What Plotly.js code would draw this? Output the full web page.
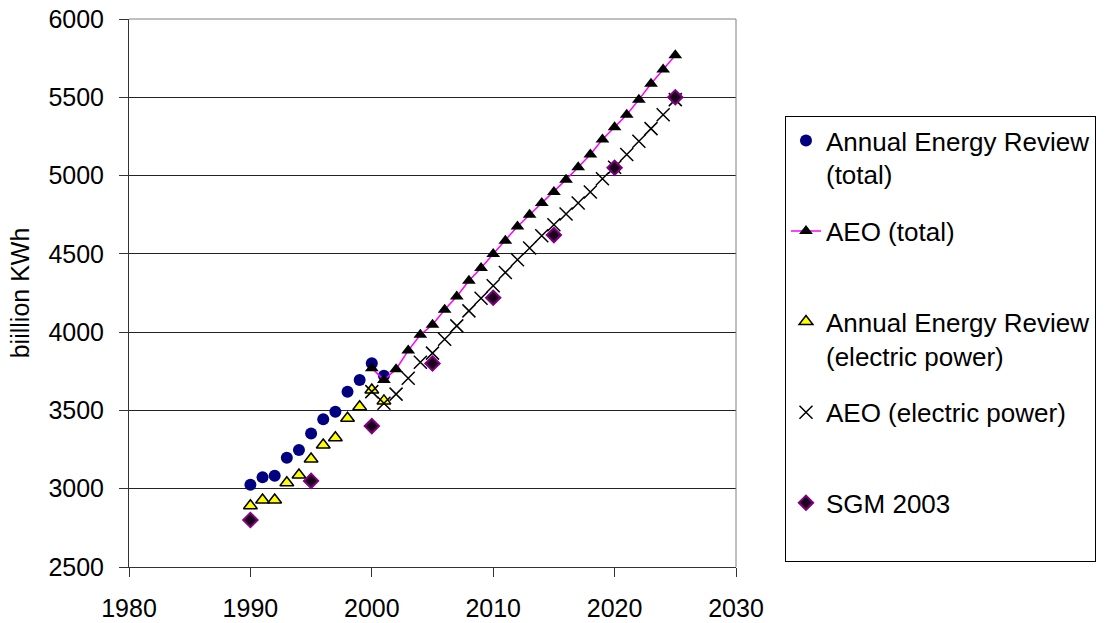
<!DOCTYPE html>
<html>
<head>
<meta charset="utf-8">
<script src="https://cdn.plot.ly/plotly-3.0.1.min.js"></script>
<style>html,body{margin:0;padding:0;background:#fff;}</style>
</head>
<body>
<div id="chart" style="width:1112px;height:623px;"></div>
<script>
const aerYears = [1990, 1991, 1992, 1993, 1994, 1995, 1996, 1997, 1998, 1999, 2000, 2001];
const aerTotal = [3025, 3073, 3083, 3198, 3247, 3352, 3444, 3492, 3620, 3695, 3802, 3721];
const aerElectric = [2891, 2928, 2928, 3038, 3088, 3190, 3279, 3326, 3450, 3524, 3631, 3561];

const aeoYears = [2000, 2001, 2002, 2003, 2004, 2005, 2006, 2007, 2008, 2009, 2010, 2011, 2012,
                  2013, 2014, 2015, 2016, 2017, 2018, 2019, 2020, 2021, 2022, 2023, 2024, 2025];
const aeoTotal = [3770, 3695, 3763, 3882, 3983, 4047, 4143, 4228, 4328, 4409, 4499, 4584, 4675,
                  4750, 4825, 4895, 4974, 5053, 5134, 5230, 5308, 5389, 5485, 5586, 5677, 5769];
const aeoElectric = [3620, 3546, 3604, 3706, 3808, 3866, 3955, 4040, 4136, 4217, 4296, 4381, 4462,
                     4537, 4616, 4686, 4754, 4825, 4895, 4980, 5053, 5134, 5219, 5300, 5389, 5485];

const sgmYears = [1990, 1995, 2000, 2005, 2010, 2015, 2020, 2025];
const sgmValues = [2800, 3050, 3400, 3800, 4220, 4620, 5050, 5500];

const seriesNames = [
  "Annual Energy Review<br>(total)",
  "AEO (total)<br>&nbsp;",
  "Annual Energy Review<br>(electric power)",
  "AEO (electric power)<br>&nbsp;",
  "SGM 2003<br>&nbsp;"
];
const yTitle = "biillion KWh";

const FONT = "Liberation Sans, Arial, sans-serif";

const traces = [
  {
    x: aerYears, y: aerTotal, name: seriesNames[0], mode: "markers", type: "scatter",
    legendgroup: "g1",
    marker: {symbol: "circle", size: 12, color: "#000080"}
  },
  {
    x: aeoYears, y: aeoTotal, name: seriesNames[1], mode: "lines+markers", type: "scatter",
    legendgroup: "g2",
    line: {color: "#ff00ff", width: 1.5},
    marker: {symbol: "triangle-up", size: 12, color: "#000000"}
  },
  {
    x: aerYears, y: aerElectric, name: seriesNames[2], mode: "markers", type: "scatter",
    legendgroup: "g3",
    marker: {symbol: "triangle-up", size: 12, color: "#ffff00", line: {color: "#000000", width: 1.5}}
  },
  {
    x: aeoYears, y: aeoElectric, name: seriesNames[3], mode: "markers", type: "scatter",
    legendgroup: "g4",
    marker: {symbol: "x-thin-open", size: 13, color: "#000000", line: {color: "#000000", width: 1.5}}
  },
  {
    x: sgmYears, y: sgmValues, name: seriesNames[4], mode: "markers", type: "scatter",
    legendgroup: "g5",
    marker: {symbol: "diamond", size: 11, color: "#1a001a", line: {color: "#800080", width: 2}}
  }
];

const layout = {
  width: 1112, height: 623,
  margin: {l: 129, r: 376, t: 19, b: 56},
  paper_bgcolor: "#ffffff",
  plot_bgcolor: "#ffffff",
  font: {family: FONT, size: 25, color: "#000000"},
  showlegend: true,
  legend: {
    x: 1.0807, y: 0.823, xanchor: "left", yanchor: "top",
    bgcolor: "#ffffff", bordercolor: "#000000", borderwidth: 1,
    font: {family: FONT, size: 26, color: "#000000"},
    valign: "top",
    tracegroupgap: 20,
    traceorder: "grouped"
  },
  xaxis: {
    range: [1980, 2030], dtick: 10, tick0: 1980,
    showgrid: false, zeroline: false,
    showline: true, linecolor: "#333333", linewidth: 1, mirror: false,
    ticks: "outside", ticklen: 9, tickcolor: "#333333", tickwidth: 1,
    ticklabelstandoff: 10,
    tickfont: {family: FONT, size: 25, color: "#000000"}
  },
  yaxis: {
    range: [2500, 6000], dtick: 500, tick0: 2500,
    showgrid: true, gridcolor: "#222222", gridwidth: 1,
    zeroline: false,
    showline: true, linecolor: "#333333", linewidth: 1,
    ticks: "outside", ticklen: 9, tickcolor: "#333333", tickwidth: 1,
    ticklabelstandoff: 10,
    tickfont: {family: FONT, size: 25, color: "#000000"},
    title: {text: yTitle, font: {family: FONT, size: 25, color: "#000000"}, standoff: 11}
  },
  shapes: [
    {type: "line", xref: "paper", yref: "paper", x0: 0, x1: 1, y0: 1, y1: 1,
     line: {color: "#808080", width: 1}},
    {type: "line", xref: "paper", yref: "paper", x0: 1, x1: 1, y0: 0, y1: 1,
     line: {color: "#808080", width: 1}}
  ]
};

Plotly.newPlot("chart", traces, layout, {displayModeBar: false, staticPlot: true});
</script>
</body>
</html>
